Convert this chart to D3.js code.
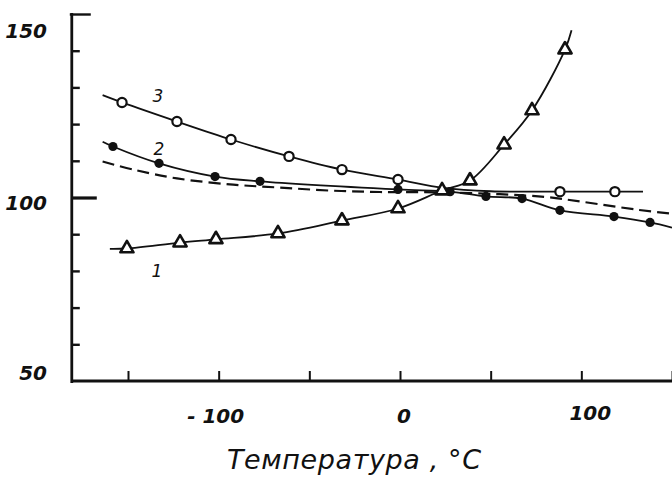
<!DOCTYPE html>
<html>
<head>
<meta charset="utf-8">
<script src="https://cdn.jsdelivr.net/npm/d3@7"></script>
<style>
  html, body { margin: 0; padding: 0; background: #fff; }
  svg { display: block; }
  text { font-family: "DejaVu Sans", sans-serif; font-style: italic; fill: #111; }
</style>
</head>
<body>
<svg id="chart" width="672" height="477"></svg>
<script>
// Curve 1 (open triangles)
const temps1 = [-150.6, -121.3, -101.5, -67.3, -32.0, -1.1, 23.2, 38.6, 57.4, 72.8, 91.0];
const vals1  = [86.1, 87.7, 88.6, 90.2, 93.7, 97.0, 101.9, 104.6, 114.4, 123.7, 140.3];
const lineExtra1 = [[-160, 86.0], [94.6, 145.6]];

// Curve 2 (filled circles)
const temps2 = [-158.3, -132.9, -102.0, -77.2, -1.1, 27.6, 47.4, 67.3, 88.2, 118.0, 137.9];
const vals2  = [113.9, 109.3, 105.7, 104.4, 102.2, 101.6, 100.3, 99.7, 96.5, 94.8, 93.2];
const lineExtra2 = [[-164, 115.2], [150, 91.8]];

// Curve 3 (open circles)
const temps3 = [-153.3, -123.0, -93.2, -61.2, -32.0, -1.1, 88.2, 118.5];
const vals3  = [125.9, 120.7, 115.8, 111.2, 107.6, 104.9, 101.6, 101.6];
const lineExtra3 = [[-164, 127.9], [24, 102.6], [50, 101.7], [134, 101.6]];

// Dashed reference curve
const dashTemps = [-164, -147, -123, -92, -66, -39, -11, 22, 55, 81, 101, 132, 150];
const dashVals  = [109.8, 107.6, 105.2, 103.5, 102.7, 101.9, 101.5, 101.4, 100.9, 100.1, 98.8, 96.6, 95.6];

// Axis ticks and labels
const xTicks = [-150, -100, -50, 0, 50, 100, 150];
const xLabels = { "-100": "- 100", "0": "0", "100": "100" };
const yTicks = [50, 60, 70, 80, 90, 100, 110, 120, 130, 140, 150];
const yLabels = { "50": "50", "100": "100", "150": "150" };
const curveLabels = [["3", -133.5, 126.0], ["2", -132.9, 111.6], ["1", -134, 78.3]];
const xTitle = "Температура , °C";

const svg = d3.select("#chart");
const x = d3.scaleLinear().domain([-150, 150]).range([128, 672]);
const y = d3.scaleLinear().domain([50, 150]).range([381, 14]);

const ink = "#111";

// Axes
const yAxis = d3.axisRight(y).tickValues(yTicks).tickSize(8).tickFormat(() => "");
const gy = svg.append("g").attr("transform", `translate(${x(-181)},0)`).call(yAxis);
gy.select(".domain").attr("d", `M0,${y(150) - 1}V${y(50) + 2}`).attr("stroke", ink).attr("stroke-width", 2.8);
gy.selectAll(".tick line").attr("stroke", ink)
  .attr("x1", d => d === 150 ? -2 : 0)
  .attr("x2", d => d === 150 ? 19 : d === 100 ? 25 : 8)
  .attr("stroke-width", d => d === 100 ? 3.2 : 2.4);
gy.selectAll(".tick").filter(d => d === 50).select("line").remove();

// y labels: baseline offset from the tick position
const yLabelShift = { "150": 24, "100": 12, "50": -1 };
svg.append("g").selectAll("text").data(yTicks.filter(d => yLabels[d])).join("text")
  .attr("x", 47).attr("y", d => y(d) + yLabelShift[d])
  .attr("text-anchor", "end").attr("font-size", 20).attr("font-weight", "bold")
  .text(d => yLabels[d]);

const xAxis = d3.axisBottom(x).tickValues(xTicks).tickSizeInner(-10).tickSizeOuter(0).tickFormat(() => "");
const gx = svg.append("g").attr("transform", `translate(0,${y(50)})`).call(xAxis);
gx.select(".domain").attr("d", `M${x(-181)},0H672`).attr("stroke", ink).attr("stroke-width", 2.8);
gx.selectAll(".tick line").attr("stroke", ink).attr("stroke-width", 2);

svg.append("g").selectAll("text").data(xTicks.filter(d => xLabels[d] !== undefined)).join("text")
  .attr("x", d => x(d) + (d === 100 ? 9 : d === -100 ? -3 : 4))
  .attr("y", d => d === 100 ? 420 : 423)
  .attr("text-anchor", "middle").attr("font-size", 20).attr("font-weight", "bold")
  .text(d => xLabels[d]);

svg.append("text").attr("x", 227).attr("y", 469)
  .attr("font-size", 27).attr("textLength", 254).attr("lengthAdjust", "spacing")
  .text(xTitle);

// Curves
const line = d3.line().x(d => x(d[0])).y(d => y(d[1])).curve(d3.curveCatmullRom.alpha(0.5));
function knots(ts, vs, extra) {
  return ts.map((t, i) => [t, vs[i]]).concat(extra).sort((a, b) => a[0] - b[0]);
}

svg.append("path").attr("d", line(dashTemps.map((t, i) => [t, dashVals[i]])))
  .attr("fill", "none").attr("stroke", ink).attr("stroke-width", 2.2).attr("stroke-dasharray", "12,6");

[[temps3, vals3, lineExtra3], [temps2, vals2, lineExtra2], [temps1, vals1, lineExtra1]].forEach(([ts, vs, ex]) => {
  svg.append("path").attr("d", line(knots(ts, vs, ex)))
    .attr("fill", "none").attr("stroke", ink).attr("stroke-width", 1.8);
});

// Markers
svg.append("g").selectAll("circle").data(temps3.map((t, i) => [t, vals3[i]])).join("circle")
  .attr("cx", d => x(d[0])).attr("cy", d => y(d[1])).attr("r", 4.6)
  .attr("fill", "#fff").attr("stroke", ink).attr("stroke-width", 2.2);

svg.append("g").selectAll("circle").data(temps2.map((t, i) => [t, vals2[i]])).join("circle")
  .attr("cx", d => x(d[0])).attr("cy", d => y(d[1])).attr("r", 4.6).attr("fill", ink);

const tri = d3.symbol().type(d3.symbolTriangle).size(75);
svg.append("g").selectAll("path").data(temps1.map((t, i) => [t, vals1[i]])).join("path")
  .attr("d", tri).attr("transform", d => `translate(${x(d[0])},${y(d[1])})`)
  .attr("fill", "#fff").attr("stroke", ink).attr("stroke-width", 2.6).attr("stroke-linejoin", "round");

// Curve numbers
svg.append("g").selectAll("text").data(curveLabels).join("text")
  .attr("x", d => x(d[1])).attr("y", d => y(d[2]))
  .attr("text-anchor", "middle").attr("font-size", 17)
  .text(d => d[0]);
</script>
</body>
</html>
